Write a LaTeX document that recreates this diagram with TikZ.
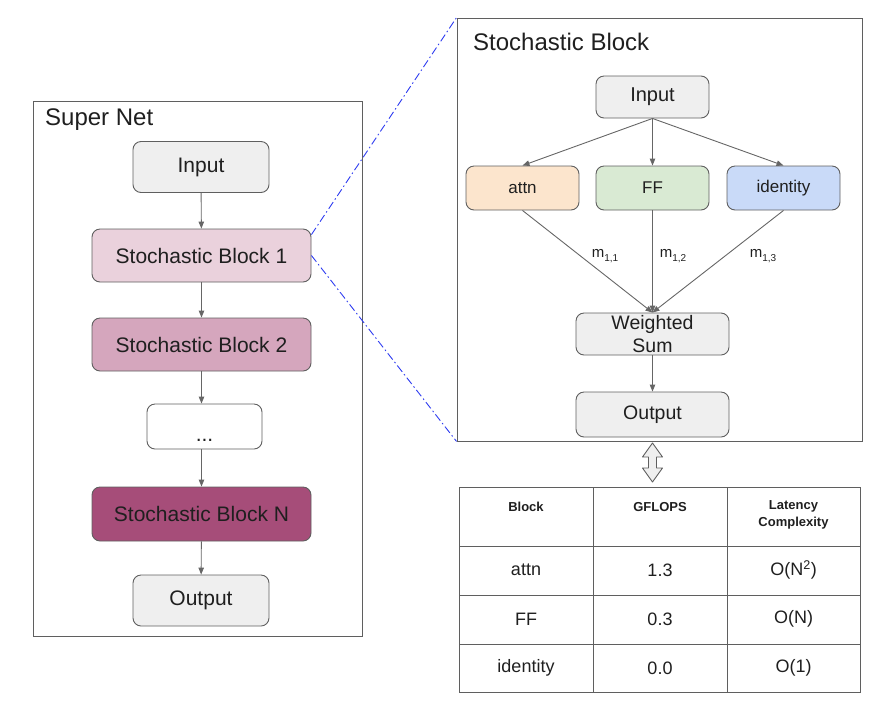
\documentclass[tikz,border=0pt]{standalone}
\usepackage{fontspec}
\setmainfont{Liberation Sans}
\usetikzlibrary{arrows.meta}
\definecolor{bord}{HTML}{5F5F5F}
\definecolor{ln}{HTML}{666666}
\definecolor{gr}{HTML}{EFEFEF}
\definecolor{pka}{HTML}{EAD1DC}
\definecolor{pkb}{HTML}{D5A6BD}
\definecolor{pkc}{HTML}{A64D79}
\definecolor{orc}{HTML}{FCE5CD}
\definecolor{gnc}{HTML}{D9EAD3}
\definecolor{blc}{HTML}{C9DAF8}
\definecolor{txt}{HTML}{1F1F1F}
\definecolor{zoomblue}{HTML}{2E3CF0}
\newcommand{\fsz}[2]{\fontsize{#1}{#2}\selectfont}
\begin{document}
\begin{tikzpicture}[x=1pt,y=-1pt,
  box/.style={draw=bord, line width=0.9pt, rounded corners=8pt, inner sep=0pt, align=center, text=txt},
  frame/.style={draw=bord, line width=0.9pt, inner sep=0pt},
  arr/.style={draw=ln, line width=0.9pt, -{Triangle[length=7pt,width=5.5pt]}},
  zoomline/.style={draw=zoomblue, line width=0.9pt, dash pattern=on 8pt off 3pt on 1.5pt off 3pt},
  cell/.style={text=txt, align=center, inner sep=0pt},
  hcell/.style={cell, font=\fsz{13}{16.5}\bfseries}
]
\useasboundingbox (0,0) rectangle (881,716);

% ---------- Super Net ----------
\node[frame, minimum width=329pt, minimum height=535pt] (sn) at (197.5,368.5) {};
\node[anchor=west, text=txt, font=\fsz{24}{28}, inner sep=0pt] (snt) at (45,120) {Super Net};

\node[box, fill=gr, minimum width=136pt, minimum height=51pt, font=\fsz{21}{25}] (in) at (201,167) {Input};
\node[box, fill=pka, minimum width=219pt, minimum height=53pt, font=\fsz{21}{25}] (b1) at (201.5,255.5) {Stochastic Block 1};
\node[box, fill=pkb, minimum width=219pt, minimum height=53pt, font=\fsz{21}{25}] (b2) at (201.5,344.5) {Stochastic Block 2};
\node[box, fill=white, minimum width=115pt, minimum height=45pt, font=\fsz{21}{25}, text height=30pt, text depth=0pt] (dots) at (204.5,426.5) {...};
\node[box, fill=pkc, minimum width=219pt, minimum height=54pt, font=\fsz{21}{25}] (bn) at (201.5,514) {Stochastic Block N};
\node[box, fill=gr, minimum width=136pt, minimum height=51pt, font=\fsz{21}{25}] (out) at (201,600.5) {Output};

\draw[arr] (in) -- (b1);
\draw[arr] (b1) -- (b2);
\draw[arr] (b2.south) -- (b2.south |- dots.north);
\draw[arr] (dots.south -| bn.north) -- (bn);
\draw[arr] (bn) -- (out);

% ---------- Stochastic Block ----------
\node[frame, minimum width=405pt, minimum height=423pt] (sb) at (659.5,229.5) {};
\node[anchor=west, text=txt, font=\fsz{24}{28}, inner sep=0pt] (sbt) at (473,42) {Stochastic Block};

\node[box, fill=gr, minimum width=113pt, minimum height=42pt, font=\fsz{20}{24}] (sin) at (652.5,97) {Input};
\node[box, fill=orc, minimum width=113pt, minimum height=44pt, font=\fsz{17}{21}] (attn) at (522.5,188) {attn};
\node[box, fill=gnc, minimum width=113pt, minimum height=44pt, font=\fsz{17}{21}] (ff) at (652.5,188) {FF};
\node[box, fill=blc, minimum width=113pt, minimum height=44pt, font=\fsz{17}{21}] (idn) at (783.5,188) {identity};
\node[box, fill=gr, minimum width=153pt, minimum height=42pt, font=\fsz{19.5}{23}] (ws) at (652.5,334) {Weighted\\Sum};
\node[box, fill=gr, minimum width=153pt, minimum height=45pt, font=\fsz{19.5}{23}] (sout) at (652.5,414.5) {Output};

\draw[arr] (sin.south) -- (attn.north);
\draw[arr] (sin.south) -- (ff.north);
\draw[arr] (sin.south) -- (idn.north);
\draw[arr] (attn.south) -- (ws.north);
\draw[arr] (ff.south) -- (ws.north);
\draw[arr] (idn.south) -- (ws.north);
\draw[arr] (ws) -- (sout);

\node[text=txt, inner sep=0pt, font=\fsz{15}{18}] (m1) at (605,256) {m\raisebox{-0.45ex}{\fsz{10}{12}1,1}};
\node[text=txt, inner sep=0pt, font=\fsz{15}{18}] (m2) at (673,256) {m\raisebox{-0.45ex}{\fsz{10}{12}1,2}};
\node[text=txt, inner sep=0pt, font=\fsz{15}{18}] (m3) at (763,256) {m\raisebox{-0.45ex}{\fsz{10}{12}1,3}};

% zoom lines
\draw[zoomline] ([yshift=-6pt]b1.north east) -- (sb.north west);
\draw[zoomline] (b1.east) -- (sb.south west);

% double arrow
\draw[draw=bord, fill=gr, line width=0.9pt, line join=round]
  (652.5,443) -- (662.5,457) -- (656.5,457) -- (656.5,468) -- (662.5,468) -- (652.5,482)
  -- (642.5,468) -- (648.5,468) -- (648.5,457) -- (642.5,457) -- cycle;

% ---------- Table ----------
\draw[draw=bord, line width=0.9pt] (459,487) rectangle (860,692);
\draw[draw=bord, line width=0.9pt] (593,487) -- (593,692) (727,487) -- (727,692)
  (459,546) -- (860,546) (459,595) -- (860,595) (459,644) -- (860,644);

\node[hcell] (h1) at (526,507) {Block};
\node[hcell] (h2) at (660,507) {GFLOPS};
\node[hcell] (h3) at (793.5,515) {Latency\\Complexity};

\node[cell, font=\fsz{18}{22}] (c11) at (526,570) {attn};
\node[cell, font=\fsz{18}{22}] (c12) at (660,570) {1.3};
\node[cell, font=\fsz{18}{22}] (c13) at (793.5,570) {O(N\textsuperscript{2})};
\node[cell, font=\fsz{18}{22}] (c21) at (526,619) {FF};
\node[cell, font=\fsz{18}{22}] (c22) at (660,619) {0.3};
\node[cell, font=\fsz{18}{22}] (c23) at (793.5,619) {O(N)};
\node[cell, font=\fsz{18}{22}] (c31) at (526,668) {identity};
\node[cell, font=\fsz{18}{22}] (c32) at (660,668) {0.0};
\node[cell, font=\fsz{18}{22}] (c33) at (793.5,668) {O(1)};
\end{tikzpicture}
\end{document}
